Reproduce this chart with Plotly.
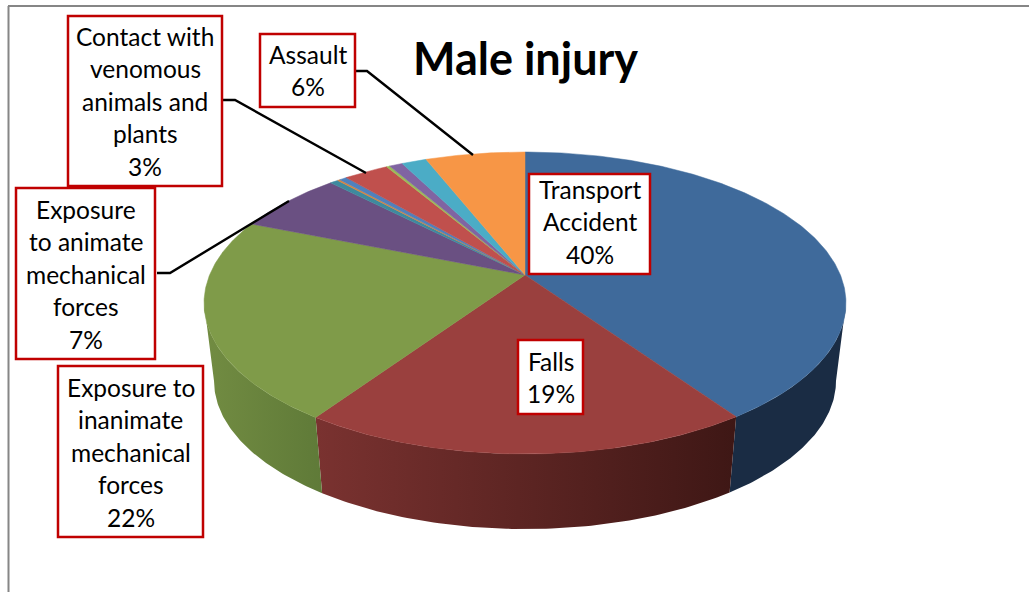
import numpy as np
import plotly.graph_objects as go

# ---------- data ----------
categories = ["Transport Accident", "Falls", "Exposure to inanimate mechanical forces",
              "Exposure to animate mechanical forces", "Other A", "Other B", "Other C",
              "Contact with venomous animals and plants", "Other D", "Other E", "Other F", "Assault"]
values = [40.4, 19.1, 21.6, 6.6, 0.5, 0.15, 0.45, 2.7, 0.2, 0.8, 1.5, 6.0]
top_colors = ["#3F6A9B", "#9A403E", "#7F9B49", "#6A5082", "#3E8A9E", "#D8853F",
              "#4F81BD", "#C0504D", "#9BBB59", "#8064A2", "#4BACC6", "#F79646"]
side_gradients = {0: ("#1A2C44", "#1A2C44"), 1: ("#7A3230", "#3E1715"), 2: ("#728C42", "#5F7A38")}

labels = {
    0: ["Transport", "Accident"],
    1: ["Falls"],
    2: ["Exposure to", "inanimate", "mechanical", "forces"],
    3: ["Exposure", "to animate", "mechanical", "forces"],
    7: ["Contact with", "venomous", "animals and", "plants"],
    11: ["Assault"],
}
title = "Male injury"

# label boxes: x0, y0, x1, y1 in chart pixels, and the y of the first text line
boxes = {
    7: (68, 16, 222, 186, 36),
    11: (260, 34, 355, 107, 54),
    3: (16, 188, 155, 359, 209),
    2: (58, 366, 203, 537, 387),
    0: (529, 174, 650, 274, 189),
    1: (518, 340, 583, 414, 361),
}
LINE_STEP = 32.5
leaders = [
    ([355, 367, 473], [71, 71, 155]),
    ([223, 235, 366], [100, 100, 173]),
    ([157, 170, 289], [273, 273, 201]),
]

# ---------- projection of the tilted disc ----------
CX, CY, A, B, K = 525.0, 275.0, 315.4, 145.8, 0.1854
A2, B2, CY2 = 305.6, 143.0, 353.5


def rim(theta, bottom=False):
    u, v = np.sin(theta), -np.cos(theta)
    w = 1 - K * v
    if bottom:
        return CX + A2 * u / w, CY2 + B2 * v / w
    return CX + A * u / w, CY + B * v / w


edges = np.concatenate([[0], np.cumsum(values)]) / sum(values) * 2 * np.pi
vis0, vis1 = np.arccos(-K), 2 * np.pi - np.arccos(-K)

fig = go.Figure()

# side wall
for i in range(len(values)):
    a, b = max(edges[i], vis0), min(edges[i + 1], vis1)
    if b <= a:
        continue
    t = np.linspace(a, b, 80)
    x1, y1 = rim(t)
    x2, y2 = rim(t[::-1], bottom=True)
    xs = np.concatenate([x1, x2])
    ys = np.concatenate([y1, y2])
    c0, c1 = side_gradients[i]
    lo, hi = float(xs.min()), float(xs.max())
    fig.add_trace(go.Scatter(
        x=xs, y=ys, mode="lines", fill="toself", line=dict(width=0),
        fillgradient=dict(type="horizontal", start=lo, stop=hi,
                          colorscale=[[0, c0], [1, c1]]),
        hoverinfo="skip", showlegend=False))

# top face
for i in range(len(values)):
    t = np.linspace(edges[i], edges[i + 1], max(3, int(values[i] * 6)))
    x, y = rim(t)
    fig.add_trace(go.Scatter(
        x=np.concatenate([[CX], x, [CX]]), y=np.concatenate([[CY], y, [CY]]),
        mode="lines", fill="toself", fillcolor=top_colors[i],
        line=dict(width=0.5, color=top_colors[i]),
        name=categories[i], hoverinfo="name", showlegend=False))

# leader lines
for lx, ly in leaders:
    fig.add_trace(go.Scatter(x=lx, y=ly, mode="lines", line=dict(color="#000000", width=2.4),
                             hoverinfo="skip", showlegend=False))

shapes = [
    dict(type="line", x0=8.5, x1=8.5, y0=6, y1=592, line=dict(color="#868686", width=2), layer="below"),
    dict(type="line", x0=8, x1=1029, y0=6, y1=6, line=dict(color="#868686", width=2), layer="below"),
]
annotations = []
for i, (x0, y0, x1, y1, first) in boxes.items():
    shapes.append(dict(type="rect", x0=x0, x1=x1, y0=y0, y1=y1, fillcolor="#FFFFFF",
                       line=dict(color="#C00000", width=2.5), layer="above"))
    for n, line in enumerate(labels[i] + [f"{round(values[i])}%"]):
        annotations.append(dict(x=(x0 + x1) / 2, y=first + n * LINE_STEP, text=line, showarrow=False,
                                xanchor="center", yanchor="middle", align="center",
                                font=dict(family="Lato", size=24.5, color="#000000")))

annotations.append(dict(x=525, y=58, text=f"<b>{title}</b>", showarrow=False,
                        xanchor="center", yanchor="middle",
                        font=dict(family="Lato", size=45, color="#000000")))

fig.update_layout(
    width=1029, height=592, margin=dict(l=0, r=0, t=0, b=0),
    paper_bgcolor="#FFFFFF", plot_bgcolor="#FFFFFF",
    xaxis=dict(range=[0, 1029], visible=False, fixedrange=True),
    yaxis=dict(range=[592, 0], visible=False, fixedrange=True),
    shapes=shapes, annotations=annotations,
)
fig.write_html("out.html", post_script="document.body.style.margin='0';", config=dict(displayModeBar=False))
